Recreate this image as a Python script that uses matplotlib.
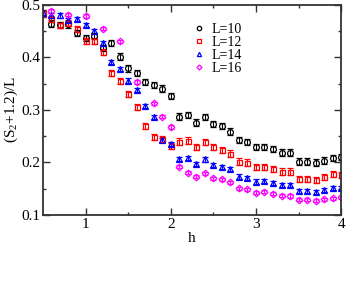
import numpy as np
import matplotlib
matplotlib.use("Agg")
import matplotlib.pyplot as plt
from matplotlib.lines import Line2D

plt.rcParams["font.family"] = ["Liberation Serif", "DejaVu Serif"]
plt.rcParams["mathtext.fontset"] = "custom"
plt.rcParams["mathtext.rm"] = "Liberation Serif"

h_all = [0.5, 0.6, 0.7, 0.8, 0.9, 1.0, 1.1, 1.2, 1.3, 1.4, 1.5, 1.6, 1.7, 1.8,
         1.9, 2.0, 2.1, 2.2, 2.3, 2.4, 2.5, 2.6, 2.7, 2.8, 2.9, 3.0, 3.1, 3.2,
         3.3, 3.4, 3.5, 3.6, 3.7, 3.8, 3.9, 4.0]

s_L10 = [0.484, 0.4645, 0.462, 0.463, 0.446, 0.437, 0.4415, 0.4175, 0.428, 0.4016,
         0.379, 0.371, 0.3527, 0.347, 0.3406, 0.3267, 0.2873, 0.290, 0.2758, 0.286,
         0.2733, 0.2695, 0.2587, 0.2429, 0.2385, 0.229, 0.230, 0.226, 0.2187, 0.2187,
         0.2015, 0.2015, 0.1996, 0.2034, 0.208, 0.2097]

s_L12 = [0.484, 0.473, 0.462, 0.465, 0.454, 0.431, 0.431, 0.411, 0.371, 0.3546,
         0.330, 0.305, 0.2695, 0.249, 0.244, 0.231, 0.2397, 0.2416, 0.230, 0.2385,
         0.229, 0.2238, 0.2168, 0.2015, 0.1996, 0.1908, 0.1908, 0.187, 0.1825, 0.1825,
         0.1686, 0.1686, 0.1667, 0.1718, 0.178, 0.1762]

s_L14 = [0.484, 0.481, 0.480, 0.4714, 0.4727, 0.462, 0.4505, 0.427, 0.392, 0.378,
         0.356, 0.338, 0.3082, 0.286, 0.2429, 0.235, 0.2067, 0.208, 0.1971, 0.2057,
         0.1952, 0.192, 0.187, 0.173, 0.170, 0.1635, 0.1648, 0.161, 0.1571, 0.157,
         0.1457, 0.146, 0.1444, 0.1476, 0.1508, 0.1508]

h_L16 = [0.6, 0.8, 1.0, 1.2, 1.4, 1.6, 1.8, 1.9, 2.0, 2.1, 2.2, 2.3, 2.4, 2.5,
         2.6, 2.7, 2.8, 2.9, 3.0, 3.1, 3.2, 3.3, 3.4, 3.5, 3.6, 3.7, 3.8, 3.9, 4.0]
s_L16 = [0.4886, 0.4816, 0.479, 0.455, 0.431, 0.3533, 0.3127, 0.2873, 0.2676, 0.192,
         0.1806, 0.173, 0.1794, 0.170, 0.168, 0.1623, 0.1508, 0.149, 0.1425, 0.1444,
         0.140, 0.1362, 0.136, 0.1286, 0.1286, 0.1273, 0.130, 0.1318, 0.1337]

err_L10 = 0.006
err_L12 = 0.006
err_L14 = 0.004
err_L16 = 0.003

fig = plt.figure(figsize=(3.46, 2.92), dpi=100)
ax = fig.add_axes([0.124, 0.264, 0.862, 0.719])

series = [
    (h_all, s_L10, err_L10, "black", "o", 4.2, "L=10"),
    (h_all, s_L12, err_L12, "red", "s", 3.6, "L=12"),
    (h_all, s_L14, err_L14, "blue", "^", 4.0, "L=14"),
    (h_L16, s_L16, err_L16, "magenta", "D", 3.4, "L=16"),
]
handles = []
for x, y, e, c, m, ms, lab in series:
    ax.errorbar(x, y, yerr=e, fmt=m, ms=ms, mfc="none", mec=c, mew=0.9,
                ecolor=c, elinewidth=0.8, capsize=2, capthick=0.8)
    handles.append(Line2D([], [], ls="none", marker=m, ms=ms * 0.75, mfc="none",
                          mec=c, mew=0.9, label=lab))

ax.set_xlim(0.5, 4)
ax.set_ylim(0.1, 0.5)
ax.set_xticks([1, 2, 3, 4])
ax.set_xticks([1.5, 2.5, 3.5], minor=True)
ax.set_yticks([0.1, 0.2, 0.3, 0.4, 0.5])
ax.set_yticklabels(["0.1", "0.2", "0.3", "0.4", "0.5"])
ax.set_yticks([0.15, 0.25, 0.35, 0.45], minor=True)
ax.tick_params(which="both", direction="in", top=True, right=True, labelsize=11,
               width=1.0, color="#333333")
ax.tick_params(which="major", length=5, pad=2)
ax.tick_params(which="minor", length=2.5)
for sp in ax.spines.values():
    sp.set_linewidth(1.3)
    sp.set_color("#333333")

ax.set_xlabel("h", fontsize=11, labelpad=1)
ax.set_ylabel(r"(S$_2$+1.2)/L", fontsize=11, labelpad=1)

ax.legend(handles=handles, loc="upper left", bbox_to_anchor=(0.467, 0.96),
          frameon=False, fontsize=10, handlelength=1.0, handletextpad=0.4,
          labelspacing=0.0, borderpad=0.2)

fig.savefig("out.png", dpi=100)
